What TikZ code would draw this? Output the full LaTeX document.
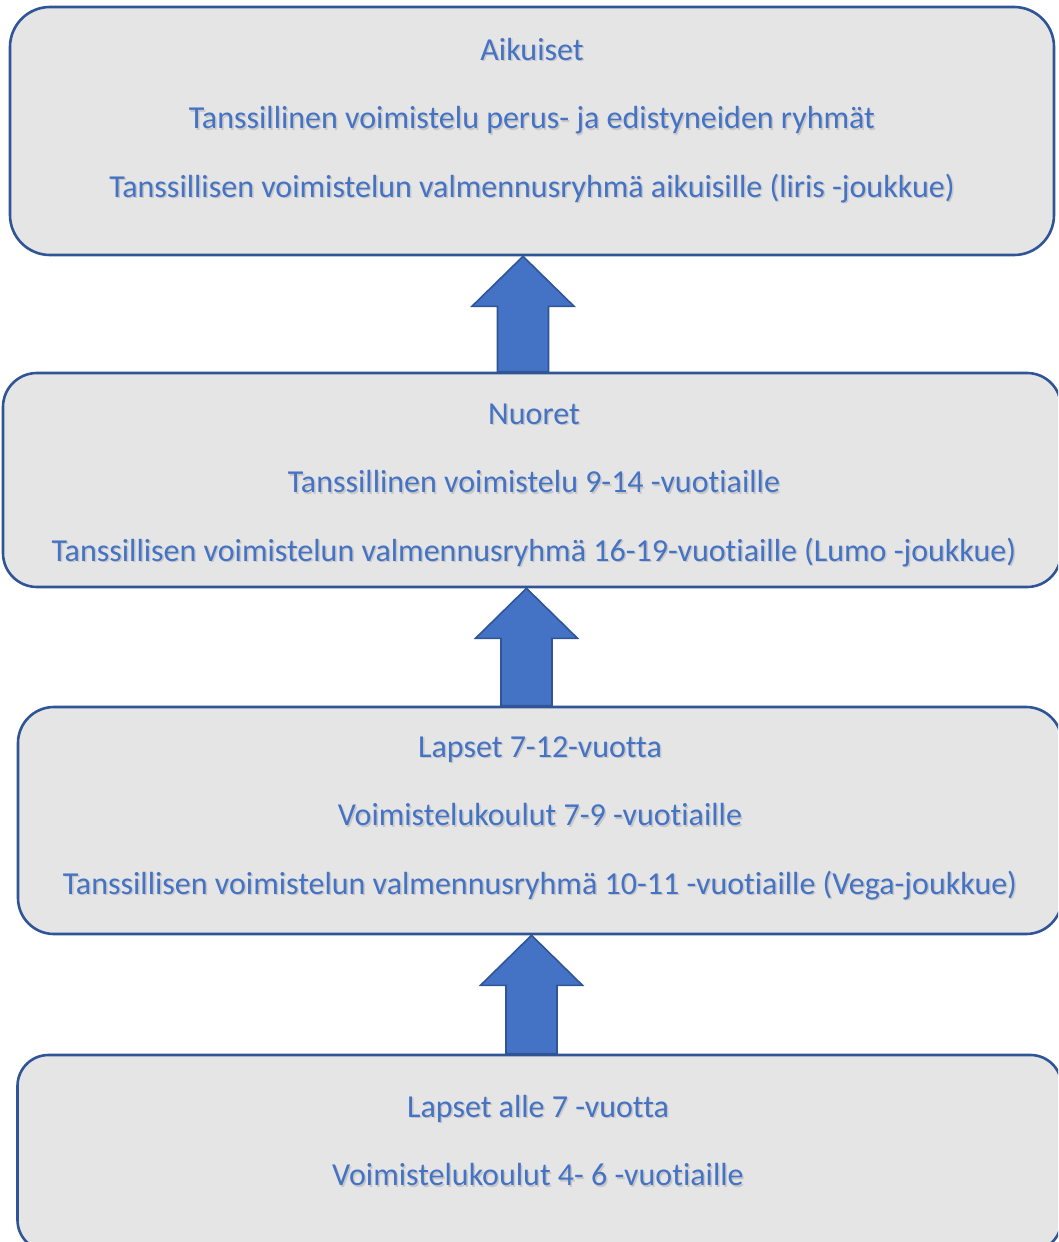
\documentclass[tikz,border=0pt]{standalone}
\usepackage{fontspec}
\setmainfont{Carlito}[Ligatures=NoCommon]
\usetikzlibrary{calc}

\definecolor{boxfill}{HTML}{E5E5E5}
\definecolor{boxline}{HTML}{2F5597}
\definecolor{accent}{HTML}{4472C4}

% text with a soft drop shadow
\newcommand{\shd}[1]{\rlap{\kern1.5pt\raisebox{-1.5pt}{\textcolor{black!22}{#1}}}#1}
% block arrow from the lower box up to the upper box
\newcommand{\liftarrow}[3]{%
  \path (#1,0 |- #2.north) coordinate (ab) (#1,0 |- #3.south) coordinate (at);
  \draw[liftarrow] (at) -- ++(51,50) -- ++(-25.5,0) -- ($(ab)+(25.5,0)$)
    -- ($(ab)+(-25.5,0)$) |- ($(at)+(-51,50)$) -- cycle;}

\begin{document}
\begin{tikzpicture}[x=1pt, y=-1pt]
    % Styles
    \tikzset{
      stage/.style = {rectangle, draw=boxline, line width=2.6pt, fill=boxfill, inner sep=0pt},
      stagetext/.style = {align=center, text=accent, font=\fontsize{32}{68.5}\selectfont},
      liftarrow/.style = {draw=boxline, line width=1.6pt, fill=accent, line join=miter}
    }
    \useasboundingbox (0,0) rectangle (1058,1242);
    \clip (0,0) rectangle (1058,1242);

    % Boxes
    \node[stage, rounded corners=40, minimum width=1044, minimum height=248] (adults) at (532,131) {};
    \node[stage, rounded corners=34, minimum width=1058, minimum height=214] (youth) at (532,480) {};
    \node[stage, rounded corners=36, minimum width=1044, minimum height=227] (kids) at (540,820.5) {};
    \node[stage, rounded corners=31, minimum width=1044, minimum height=196] (small) at (539.5,1153) {};

    % Texts
    \node[stagetext] (adults-t) at (532,121) {\shd{Aikuiset}\\
      \shd{Tanssillinen voimistelu perus- ja edistyneiden ryhmät}\\
      \shd{Tanssillisen voimistelun valmennusryhmä aikuisille (liris -joukkue)}};
    \node[stagetext] (youth-t) at (534,486) {\shd{Nuoret}\\
      \shd{Tanssillinen voimistelu 9-14 -vuotiaille}\\
      \shd{Tanssillisen voimistelun valmennusryhmä 16-19-vuotiaille (Lumo -joukkue)}};
    \node[stagetext] (kids-t) at (540,819) {\shd{Lapset 7-12-vuotta}\\
      \shd{Voimistelukoulut 7-9 -vuotiaille}\\
      \shd{Tanssillisen voimistelun valmennusryhmä 10-11 -vuotiaille (Vega-joukkue)}};
    \node[stagetext] (small-t) at (538,1141) {\shd{Lapset alle 7 -vuotta}\\
      \shd{Voimistelukoulut 4- 6 -vuotiaille}};

    % Arrows
    \liftarrow{523}{youth}{adults}
    \liftarrow{526.5}{kids}{youth}
    \liftarrow{531.5}{small}{kids}
\end{tikzpicture}
\end{document}
